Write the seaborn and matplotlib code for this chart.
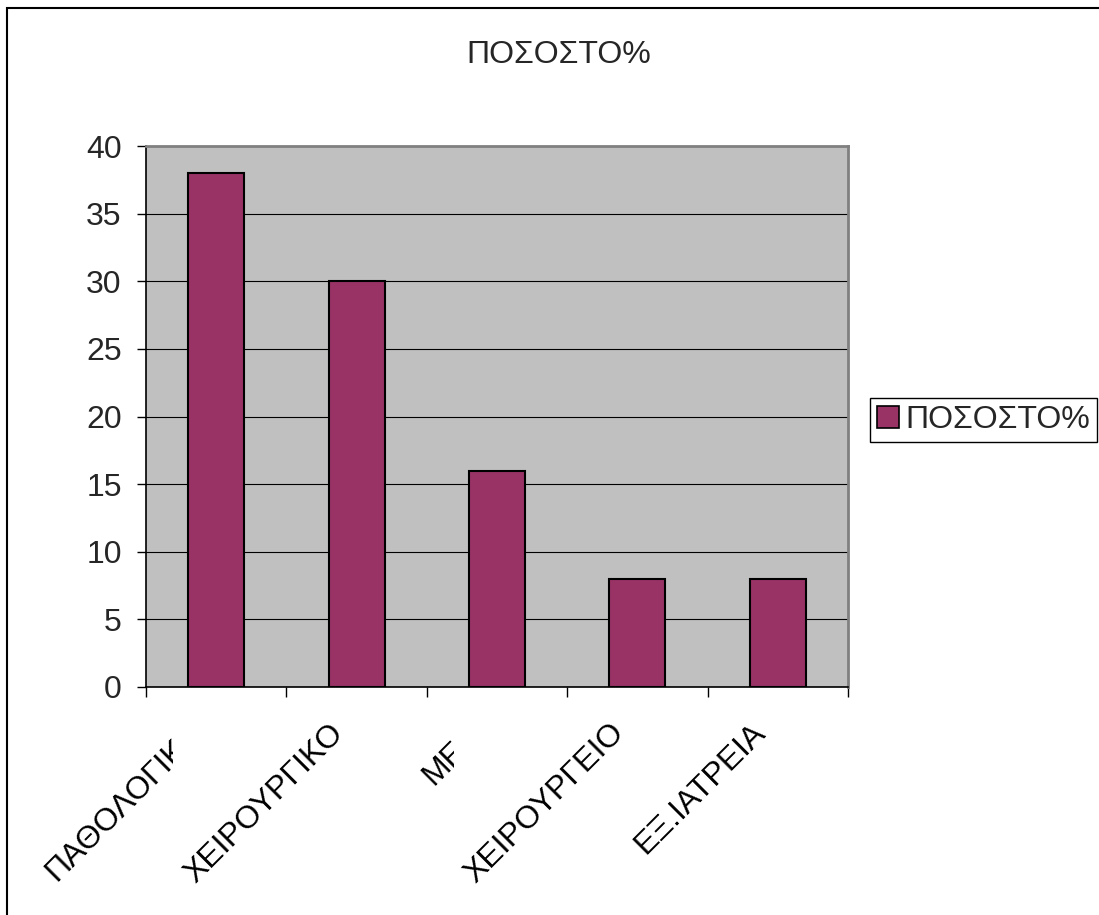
import matplotlib
matplotlib.use("Agg")
import matplotlib.pyplot as plt
from matplotlib.patches import Patch, Rectangle
from matplotlib.transforms import Bbox, ScaledTranslation
import seaborn as sns
import pandas as pd

# Share of cases per hospital department
categories = ["ΠΑΘΟΛΟΓΙΚΗ", "ΧΕΙΡΟΥΡΓΙΚΟ", "ΜΕΘ", "ΧΕΙΡΟΥΡΓΕΙΟ", "ΕΞ.ΙΑΤΡΕΙΑ"]
values = [38, 30, 16, 8, 8]
series_name = "ΠΟΣΟΣΤΟ%"
y_ticks = [0, 5, 10, 15, 20, 25, 30, 35, 40]
# category labels that are cut short by the narrow label slot
truncated = {0, 2}

sns.set_theme(style="white")
plt.rcParams["font.family"] = ["Liberation Sans", "DejaVu Sans"]

W, H = 1099, 915
fig = plt.figure(figsize=(W / 100, H / 100), dpi=100)
fig.patch.set_facecolor("white")

# outer chart-area border (runs off the right and bottom edges)
fig.add_artist(Rectangle((7 / W, -0.1), 1.2, 1 - 8 / H + 0.1,
                         transform=fig.transFigure, fill=False,
                         edgecolor="black", linewidth=1.5))

left, right, top, bottom = 146, 848, 146, 687
ax = fig.add_axes([left / W, 1 - bottom / H, (right - left) / W, (bottom - top) / H])
ax.set_facecolor("#C0C0C0")

df = pd.DataFrame({"dept": categories, "pct": values})
sns.barplot(data=df, x="dept", y="pct", color="#993366", saturation=1,
            width=0.4, edgecolor="black", linewidth=1.5, ax=ax, zorder=3)

ax.set_xlim(-0.5, len(categories) - 0.5)
ax.set_ylim(0, 40)
ax.set_yticks(y_ticks)
ax.set_yticklabels([str(v) for v in y_ticks], fontsize=23)
ax.yaxis.grid(True, color="black", linewidth=0.8, zorder=1)
ax.set_axisbelow(True)
ax.set_xlabel("")
ax.set_ylabel("")

# x ticks sit on category boundaries; labels are drawn separately
ax.set_xticks([i - 0.5 for i in range(len(categories) + 1)])
ax.set_xticklabels([])
ax.tick_params(axis="x", direction="out", length=7, width=1, color="black", bottom=True)
ax.tick_params(axis="y", direction="out", length=6.5, width=1, color="black",
               left=True, pad=11)

for side in ("left", "bottom"):
    ax.spines[side].set_color("black")
    ax.spines[side].set_linewidth(1.2)
for side in ("top", "right"):
    ax.spines[side].set_color("#808080")
    ax.spines[side].set_linewidth(2)

offset = ScaledTranslation(-28 / 100, -31 / 100, fig.dpi_scale_trans)
for i, name in enumerate(categories):
    t = ax.text(i, 0, name, transform=ax.get_xaxis_transform() + offset,
                rotation=45, rotation_mode="anchor", ha="right", va="top",
                fontsize=23, color="black")
    t.set_clip_path(None)
    if i in truncated:
        cx = ax.transData.transform((i, 0))[0]
        t.set_clip_box(Bbox.from_extents(0, 0, cx - 43, H))
        t.set_clip_on(True)
    else:
        t.set_clip_on(False)

fig.text(559 / W, 1 - 63 / H, series_name, ha="center", va="baseline", fontsize=23)

leg = fig.legend(handles=[Patch(facecolor="#993366", edgecolor="black", linewidth=1.2)],
                 labels=[series_name], loc="upper left",
                 bbox_to_anchor=(870 / W, 1 - 398 / H), bbox_transform=fig.transFigure,
                 fontsize=23, frameon=True, fancybox=False, framealpha=1,
                 edgecolor="black", handlelength=0.68, handleheight=0.68,
                 handletextpad=0.2, borderpad=0.22, borderaxespad=0)
leg.get_frame().set_linewidth(1.0)

fig.savefig("out.png", dpi=100, facecolor="white")
